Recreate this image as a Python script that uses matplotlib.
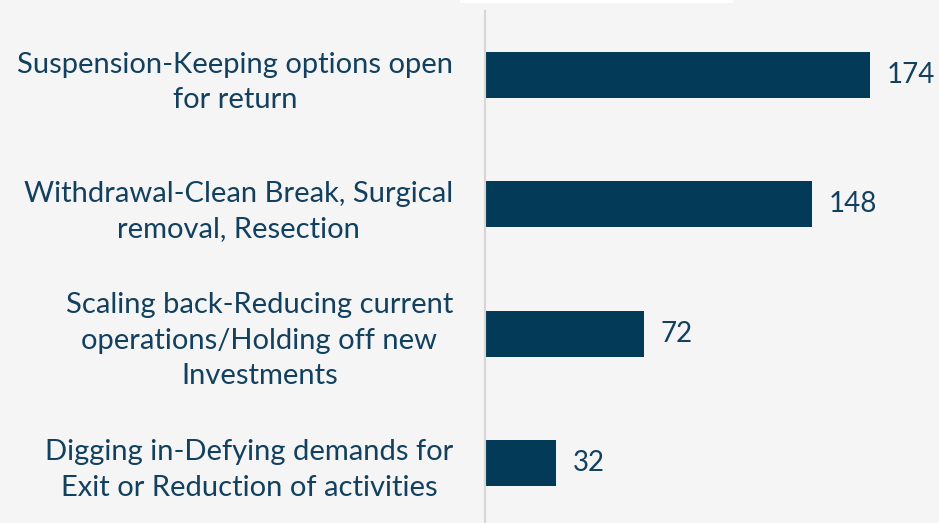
import matplotlib
matplotlib.use("Agg")
import matplotlib.pyplot as plt
from matplotlib.patches import Rectangle

categories = [
    "Suspension-Keeping options open\nfor return",
    "Withdrawal-Clean Break, Surgical\nremoval, Resection",
    "Scaling back-Reducing current\noperations/Holding off new\nInvestments",
    "Digging in-Defying demands for\nExit or Reduction of activities",
]
values = [174, 148, 72, 32]

bar_color = "#033a57"
text_color = "#12405f"
bg = "#f5f5f5"

plt.rcParams['font.family'] = ['Lato', 'DejaVu Sans']

W, H = 939, 523
fig = plt.figure(figsize=(W / 100, H / 100), dpi=100, facecolor=bg)
fig.patches.append(Rectangle((460 / W, 1 - 3 / H), 273 / W, 3 / H,
                             transform=fig.transFigure, facecolor='white', edgecolor='none'))
ax = fig.add_axes([485 / W, 0, (W - 485) / W, (523 - 11) / H])
ax.set_facecolor('none')

y = list(range(len(categories)))
ax.barh(y, values, height=0.355, color=bar_color)
ax.set_ylim(3.464, -0.495)
ax.set_xlim(0, 205.2)

for yi, v in zip(y, values):
    ax.text(v + 7.5, yi, str(v), va='center', ha='left', fontsize=20, color=text_color)

ax.set_yticks(y)
ax.set_yticklabels(categories, fontsize=21, color=text_color, multialignment='center', linespacing=1.45)
ax.tick_params(axis='y', length=0, pad=23)
ax.set_xticks([])
for s in ['top', 'right', 'bottom']:
    ax.spines[s].set_visible(False)
ax.spines['left'].set_color('#d6d6d6')
ax.spines['left'].set_linewidth(1.5)

fig.savefig("out.png", dpi=100, facecolor=bg)
